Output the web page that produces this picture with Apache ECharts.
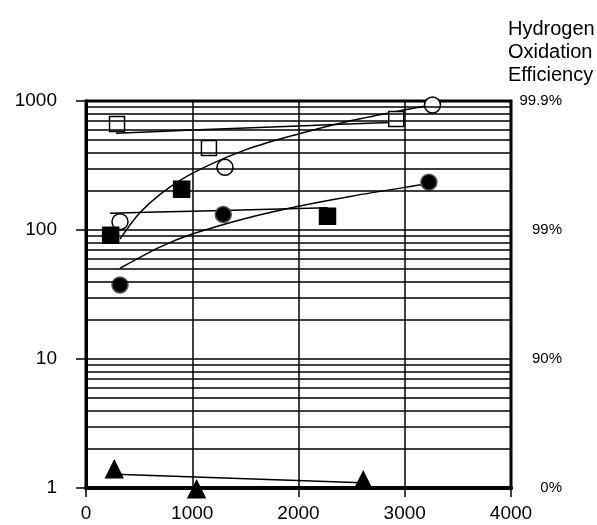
<!DOCTYPE html>
<html>
<head>
<meta charset="utf-8">
<script src="https://cdn.jsdelivr.net/npm/echarts@6/dist/echarts.min.js"></script>
<style>html,body{margin:0;padding:0;background:#fff}#c{width:597px;height:525px}</style>
</head>
<body>
<div id="c"></div>
<script>
// ---- data ----
var openSquares = [[292, 663], [1157, 432], [2920, 725]];
var openSquareFit = [[282, 562], [1000, 595], [2000, 641], [2920, 684]];
var openCircles = [[320, 116], [1308, 306], [3261, 931]];
var openCircleFit = [[320, 85], [500, 134], [700, 190], [1000, 275], [1500, 418], [2000, 555], [2500, 705], [3000, 854], [3261, 931]];
var filledSquares = [[232, 91], [900, 207], [2273, 128]];
var filledSquareFit = [[226, 135], [1000, 140], [2273, 149]];
var filledCircles = [[320, 37.5], [1292, 132], [3227, 235]];
var filledCircleFit = [[320, 50.5], [700, 74], [1000, 93], [1500, 123], [2000, 153], [2500, 183], [3000, 214], [3227, 228]];
var triangles = [[266, 1.40], [1041, 0.98], [2609, 1.15]];
var triangleFit = [[280, 1.28], [2600, 1.10]];

var xTicks = [0, 1000, 2000, 3000, 4000];
var yTicks = [1, 10, 100, 1000];
var effLabels = ['0%', '90%', '99%', '99.9%'];
var minorGrid = [2, 3, 4, 5, 6, 7, 8, 9, 10, 20, 30, 40, 50, 60, 70, 80, 90, 100, 200, 300, 400, 500, 600, 700, 800, 900];
var titleLines = ['Hydrogen', 'Oxidation', 'Efficiency'];

// ---- chart ----
var chart = echarts.init(document.getElementById('c'), null, {renderer: 'canvas'});
var font = 'Liberation Sans, Arial, sans-serif';
function lineS(data) {
  return {type: 'line', data: data, smooth: 0.3, showSymbol: false, symbol: 'none',
    lineStyle: {color: '#000', width: 1.5}, silent: true, z: 3};
}
function scat(data, symbol, size, fill, border) {
  return {type: 'scatter', data: data, symbol: symbol, symbolSize: size, clip: false,
    itemStyle: {color: fill, borderColor: border || '#000', borderWidth: 1.5, opacity: 1}, z: 4};
}
chart.setOption({
  animation: false,
  backgroundColor: '#fff',
  title: {
    text: titleLines.join('\n'), left: 503, top: 13,
    textStyle: {fontFamily: font, fontSize: 20, fontWeight: 'normal', color: '#000', lineHeight: 23}
  },
  grid: {left: 86, right: 86, top: 101, bottom: 37, show: true, borderColor: '#000', borderWidth: 3, backgroundColor: 'transparent'},
  xAxis: {
    type: 'value', min: xTicks[0], max: xTicks[xTicks.length - 1], interval: 1000,
    axisLine: {lineStyle: {color: '#000', width: 4}},
    axisTick: {show: true, length: 9, lineStyle: {color: '#000', width: 1.5}},
    axisLabel: {color: '#000', fontSize: 19, fontFamily: font, margin: 16, formatter: function (v) { return String(v); }},
    splitLine: {show: true, lineStyle: {color: '#000', width: 1.5}}
  },
  yAxis: [{
    type: 'log', logBase: 10, min: yTicks[0], max: yTicks[yTicks.length - 1],
    axisLine: {show: true, lineStyle: {color: '#000', width: 3}},
    axisTick: {show: true, length: 10, lineStyle: {color: '#000', width: 1.5}},
    axisLabel: {color: '#000', fontSize: 19, fontFamily: font, margin: 29, formatter: function (v) { return String(Math.round(v)); }},
    splitLine: {show: false}
  }, {
    type: 'log', logBase: 10, min: yTicks[0], max: yTicks[yTicks.length - 1], position: 'right',
    axisLine: {show: false}, axisTick: {show: false}, splitLine: {show: false},
    axisLabel: {color: '#000', fontSize: 15, fontFamily: font, margin: 51, align: 'right',
      formatter: function (v) { var i = yTicks.indexOf(Math.round(v)); return i >= 0 ? effLabels[i] : ''; }}
  }],
  series: [
    {type: 'line', data: [], silent: true, z: 1,
      markLine: {silent: true, symbol: ['none', 'none'], label: {show: false},
        lineStyle: {color: '#000', width: 1.5, type: 'solid'},
        data: minorGrid.map(function (v) { return {yAxis: v}; })}},
    lineS(openSquareFit), lineS(openCircleFit), lineS(filledSquareFit), lineS(filledCircleFit), lineS(triangleFit),
    scat(openSquares, 'rect', 15, '#fff'),
    scat(openCircles, 'circle', 16, '#fff'),
    scat(filledSquares, 'rect', 16, '#000'),
    scat(filledCircles, 'circle', 16, '#000', '#555'),
    scat(triangles, 'triangle', 17, '#000')
  ]
});
</script>
</body>
</html>
